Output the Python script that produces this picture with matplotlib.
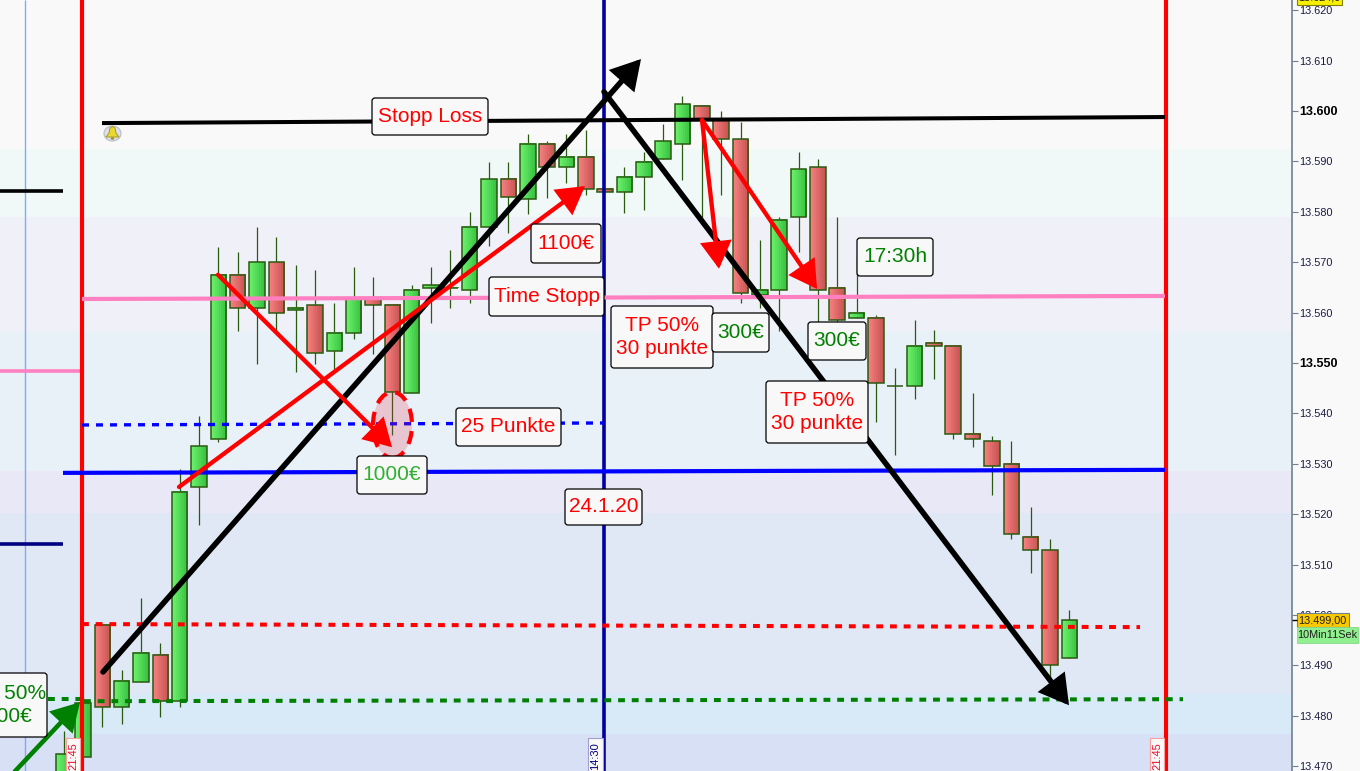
import numpy as np
import matplotlib
matplotlib.use("Agg")
import matplotlib.pyplot as plt
from matplotlib.patches import Ellipse, FancyBboxPatch, Polygon, Rectangle

plt.rcParams['font.family'] = ['Liberation Sans', 'DejaVu Sans']
plt.rcParams['lines.solid_capstyle'] = 'butt'

# candles
opens = [13465.3, 13471.8, 13498.0, 13481.7, 13486.7, 13492.1, 13482.9, 13525.4, 13534.9, 13567.5,
         13560.9, 13570.0, 13560.5, 13561.5, 13552.4, 13556.0, 13562.9, 13561.5, 13544.0, 13564.9,
         13564.8, 13564.5, 13577.0, 13586.5, 13582.5, 13593.5, 13588.9, 13590.9, 13584.5, 13583.9,
         13586.9, 13590.5, 13593.5, 13601.0, 13598.4, 13594.4, 13563.5, 13564.5, 13579.0, 13588.9,
         13564.9, 13558.9, 13558.9, 13545.4, 13545.4, 13554.0, 13553.4, 13535.9, 13534.5, 13530.0,
         13515.5, 13512.9, 13491.5]
highs = [13477.0, 13483.7, 13498.0, 13489.1, 13503.4, 13494.4, 13529.0, 13539.5, 13573.0, 13572.0,
         13577.0, 13575.0, 13569.4, 13568.5, 13561.9, 13569.0, 13567.1, 13561.5, 13565.5, 13569.0,
         13572.4, 13580.0, 13589.9, 13589.9, 13595.4, 13594.0, 13595.4, 13596.2, 13584.5, 13588.9,
         13591.9, 13597.4, 13603.0, 13601.0, 13600.0, 13597.8, 13574.4, 13579.0, 13591.9, 13590.5,
         13579.0, 13571.0, 13559.5, 13549.0, 13558.5, 13556.5, 13553.4, 13544.0, 13535.5, 13534.5,
         13521.4, 13515.1, 13501.0]
lows = [13464.0, 13471.8, 13477.8, 13478.4, 13486.7, 13479.8, 13481.7, 13517.9, 13534.3, 13556.3,
        13549.8, 13556.5, 13548.2, 13549.8, 13548.8, 13554.8, 13551.8, 13535.7, 13544.0, 13558.0,
        13560.9, 13561.9, 13573.2, 13575.8, 13579.6, 13582.7, 13585.7, 13583.3, 13583.9, 13579.8,
        13580.4, 13590.5, 13586.3, 13577.4, 13583.3, 13561.9, 13560.9, 13556.3, 13572.0, 13556.5,
        13556.0, 13558.9, 13538.3, 13531.7, 13542.9, 13546.8, 13534.9, 13533.3, 13523.8, 13515.1,
        13508.3, 13485.7, 13491.5]
closes = [13472.4, 13482.5, 13481.7, 13486.9, 13492.5, 13482.9, 13524.4, 13533.5, 13567.5, 13560.9,
          13570.0, 13559.9, 13560.9, 13552.0, 13556.0, 13562.9, 13561.5, 13544.2, 13564.5, 13565.4,
          13564.9, 13577.0, 13586.5, 13582.9, 13593.5, 13588.9, 13590.9, 13584.5, 13583.9, 13586.9,
          13589.9, 13594.0, 13601.4, 13598.4, 13594.4, 13563.9, 13564.5, 13578.4, 13588.5, 13564.5,
          13558.5, 13559.9, 13546.0, 13545.4, 13553.4, 13553.4, 13535.9, 13534.9, 13529.6, 13516.1,
          13512.9, 13490.1, 13499.0]

# price levels
tick_values = [13470, 13480, 13490, 13500, 13510, 13520, 13530, 13540, 13550, 13560, 13570, 13580, 13590, 13600, 13610, 13620]
tick_labels = ["13.470", "13.480", "13.490", "13.500", "13.510", "13.520", "13.530", "13.540", "13.550", "13.560",
               "13.570", "13.580", "13.590", "13.600", "13.610", "13.620"]
bold_ticks = ["13.550", "13.600"]

band_edges = [13622, 13592.5, 13579, 13556.3, 13528.6, 13520.2, 13484.3, 13476.4, 13469]
band_colors = ["#f9f9f9", "#f0f9f8", "#f0f0f9", "#e8f0f8", "#e8e8f6", "#e0e8f6", "#d8eaf8", "#d8e0f6"]

Y_TOP = 13622.02
Y_BOTTOM = 13469.05
X0 = 63.6
STEP = 19.34
BODY = 15.5

fig = plt.figure(figsize=(13.6, 7.71), dpi=100, facecolor="#f9f9f9")
ax = fig.add_axes([0, 0, 1292 / 1360, 1])
ax.set_xlim(0, 1292)
ax.set_ylim(Y_BOTTOM, Y_TOP)

for i in range(len(band_colors)):
    ax.axhspan(band_edges[i + 1], band_edges[i], color=band_colors[i], lw=0, zorder=0)

# body shading, light on the left side
green_grad = np.linspace([0.42, 0.94, 0.42], [0.22, 0.76, 0.26], 8)[np.newaxis, :, :]
red_grad = np.linspace([0.96, 0.50, 0.50], [0.79, 0.33, 0.33], 8)[np.newaxis, :, :]

for i in range(len(opens)):
    x = X0 + STEP * i
    ax.plot([x, x], [lows[i], highs[i]], color="#2a5a10", lw=0.9, zorder=2)
    up = closes[i] >= opens[i]
    bottom = min(opens[i], closes[i])
    top = max(opens[i], closes[i])
    ax.imshow(green_grad if up else red_grad, extent=(x - BODY / 2, x + BODY / 2, bottom, top),
              aspect="auto", interpolation="nearest", zorder=3)
    ax.add_patch(Rectangle((x - BODY / 2, bottom), BODY, top - bottom, fill=False,
                           ec="#2a5a10", lw=1.1, zorder=3.5))
ax.set_xlim(0, 1292)
ax.set_ylim(Y_BOTTOM, Y_TOP)

# vertical session lines
ax.axvline(24.5, color="#80a8ff", lw=1, zorder=1)
ax.axvline(81.5, color="#ff0000", lw=3, zorder=5)
ax.axvline(1165.5, color="#ff0000", lw=3, zorder=5)
ax.axvline(604, color="#0000a0", lw=2.6, zorder=5)

# left stubs
ax.plot([0, 63], [13584.1, 13584.1], color="black", lw=2.6, zorder=4)
ax.plot([0, 80], [13548.4, 13548.4], color="#ff80c0", lw=2.6, zorder=4)
ax.plot([0, 63], [13514.1, 13514.1], color="#000080", lw=2.6, zorder=4)

# levels
ax.plot([102, 1165], [13597.6, 13598.8], color="black", lw=2.9, zorder=6)
ax.plot([82, 1165], [13562.7, 13563.3], color="#ff80c0", lw=3, zorder=6)
ax.plot([63, 1165], [13528.2, 13528.8], color="blue", lw=3, zorder=6)
ax.plot([82, 604], [13537.7, 13538.1], color="blue", lw=2.4, ls=(0, (2.1, 2.1)), zorder=6)
ax.plot([82, 1140], [13498.2, 13497.6], color="red", lw=2.9, ls=(0, (1.7, 1.7)), zorder=6)
ax.plot([48, 80], [13483.3, 13483.3], color="green", lw=2.9, ls=(0, (1.7, 1.7)), zorder=6)
ax.plot([84, 1183], [13482.9, 13483.3], color="green", lw=2.9, ls=(0, (1.7, 1.7)), zorder=6)

# the red circle
ax.add_patch(Ellipse((392.5, 13537.7), 39, 13.1, fc=(0.9, 0.2, 0.3, 0.22), ec="red", lw=3,
                     ls=(0, (3.2, 2.2)), zorder=7))


def arrow(x1, y1, x2, y2, color, lw):
    ax.annotate("", xy=(x2, y2), xytext=(x1, y1), zorder=8,
                arrowprops=dict(arrowstyle="-|>,head_length=0.95,head_width=0.55", color=color, lw=lw,
                                mutation_scale=16, shrinkA=0, shrinkB=0, joinstyle="miter"))


arrow(103, 13488.7, 641, 13610.3, "black", 4)
arrow(604, 13603.8, 1069, 13482.1, "black", 4)
arrow(218, 13567.5, 392, 13533.3, "red", 3.1)
arrow(179, 13525.4, 585, 13585.1, "red", 3.1)
arrow(702, 13598.2, 719, 13568.7, "red", 3.1)
arrow(702, 13598.2, 817, 13564.7, "red", 3.1)
arrow(15, 13469, 80, 13482.7, "green", 3.3)

ax.set_yticks(tick_values, tick_labels)
ax.yaxis.tick_right()
ax.set_xticks([])
ax.tick_params(axis="y", length=4.3, width=0.8, color="#708090", pad=1, labelsize=7.8, labelcolor="#1a1a40")
for lab in ax.get_yticklabels():
    if lab.get_text() in bold_ticks:
        lab.set_fontweight("bold")
        lab.set_fontsize(9)
        lab.set_color("black")
for s in ["top", "left", "bottom"]:
    ax.spines[s].set_visible(False)
ax.spines["right"].set_color("#708090")
ax.spines["right"].set_linewidth(1.2)

# overlay in picture coordinates for the text boxes
ov = fig.add_axes([0, 0, 1, 1], facecolor="none")
ov.set_xlim(0, 1360)
ov.set_ylim(771, 0)
ov.axis("off")

RED = "#ff0000"
GREEN = "#008000"
LIGHT = "#30b030"


def label(x1, y1, x2, y2, text, color, cx=None):
    ov.add_patch(FancyBboxPatch((x1 + 3, y1 + 3), x2 - x1 - 6, y2 - y1 - 6, boxstyle="round,pad=3,rounding_size=3",
                                fc="#f8f8f8", ec="black", lw=0.9, zorder=10))
    ov.text((x1 + x2) / 2 if cx is None else cx, (y1 + y2) / 2, text, color=color, fontsize=15, ha="center",
            va="center", linespacing=1.32, zorder=11, clip_on=True)


label(372, 98, 488, 135, "Stopp Loss", RED)
label(531, 224, 601, 263, "1100€", RED)
label(489, 277, 604, 316, "Time Stopp", RED)
label(611, 306, 713, 368, "TP 50%\n30 punkte", RED)
label(712, 313, 769, 352, "300€", GREEN)
label(808, 322, 866, 360, "300€", GREEN)
label(857, 238, 933, 276, "17:30h", GREEN)
label(766, 381, 868, 443, "TP 50%\n30 punkte", RED)
label(456, 408, 561, 446, "25 Punkte", RED)
label(357, 456, 427, 494, "1000€", LIGHT)
label(565, 489, 642, 525, "24.1.20", RED)
label(-60, 673, 47, 737, "TP 50%\n300€", GREEN, cx=9)

# time tags
for x1, x2, txt, col, edge in [(66, 80, "21:45", "#e01030", "#f8a0a0"),
                               (588, 603, "14:30", "#000080", "#a0a0d0"),
                               (1150, 1164, "21:45", "#e01030", "#f8a0a0")]:
    ov.add_patch(Rectangle((x1, 738), x2 - x1, 40, fc="#fbf8f8", ec=edge, lw=0.8, zorder=9))
    ov.text((x1 + x2) / 2, 756, txt, rotation=90, color=col, fontsize=8, ha="center", va="center", zorder=9.5)

# price tags on the axis
ov.add_patch(Rectangle((1297, -8), 45, 13, fc="#f8f000", ec="#808000", lw=0.8, zorder=10))
ov.text(1319.5, -2, "13.624,0", fontsize=7.8, color="#202020", ha="center", va="center", zorder=11, clip_on=True)
ov.add_patch(Rectangle((1297, 613), 51.5, 14, fc="#f8c800", ec="#708090", lw=0.8, zorder=10))
ov.text(1322.7, 620.3, "13.499,00", fontsize=7.8, color="#202020", ha="center", va="center", zorder=11)
ov.add_patch(Rectangle((1297, 627), 61, 16, fc="#90f090", ec="#88d888", lw=0.6, zorder=10))
ov.text(1327.5, 635.3, "10Min11Sek", fontsize=7.8, color="#202020", ha="center", va="center", zorder=11)
ov.plot([1292, 1297], [620, 620], color="black", lw=1, zorder=10)

# alarm bell
ov.add_patch(Ellipse((112.5, 133.5), 17, 15, fc="#dde0e8", ec="#b8bcc8", lw=0.8, zorder=9))
ov.add_patch(Polygon([(112.5, 126.5), (115, 128), (116, 133), (119, 137), (106, 137), (109, 133), (110, 128)],
                     fc="#e8d830", ec="#a09020", lw=0.6, zorder=9.5))
ov.add_patch(Ellipse((112.5, 138.5), 3.5, 2.5, fc="#a09020", ec="none", zorder=9.5))

fig.savefig("out.png", dpi=100, facecolor=fig.get_facecolor())
